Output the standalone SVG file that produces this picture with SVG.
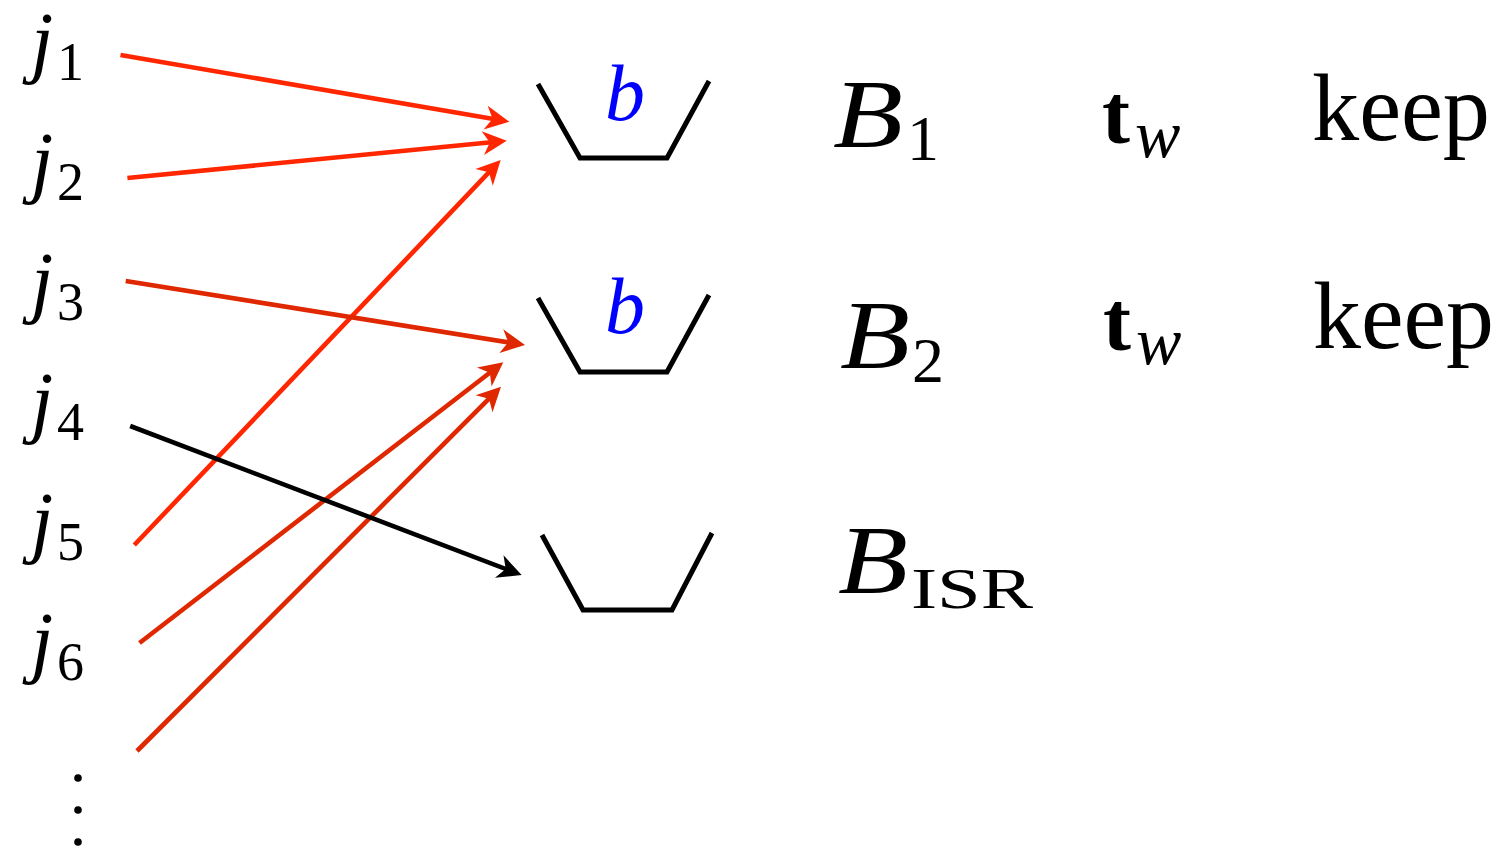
<svg xmlns="http://www.w3.org/2000/svg" width="1504" height="848" viewBox="0 0 1504 848">
<style>
text{font-family:'Liberation Serif',serif;fill:#000}
.i{font-style:italic}
.jm{font-size:80px}
.js{font-size:54px}
.bm{font-size:97px}
.bs{font-size:64px}
.bl{font-size:80px;fill:#0000ff;font-style:italic}
.kp{font-size:95px}
.bucket{fill:none;stroke:#000;stroke-width:5;stroke-linejoin:miter}
.a1{fill:none;stroke:#ff2600;stroke-width:4.6}
.a2{fill:none;stroke:#e02800;stroke-width:4.6}
.a3{fill:none;stroke:#000;stroke-width:4.6}
</style>
<defs>
<marker id="m1" markerUnits="userSpaceOnUse" refX="0" refY="0" markerWidth="30" markerHeight="30" orient="auto" overflow="visible"><path d="M13,0 L-11,-12 L-4,0 L-11,12 Z" fill="#ff2600"/></marker>
<marker id="m2" markerUnits="userSpaceOnUse" refX="0" refY="0" markerWidth="30" markerHeight="30" orient="auto" overflow="visible"><path d="M13,0 L-11,-12 L-4,0 L-11,12 Z" fill="#e02800"/></marker>
<marker id="m3" markerUnits="userSpaceOnUse" refX="0" refY="0" markerWidth="30" markerHeight="30" orient="auto" overflow="visible"><path d="M13,0 L-11,-12 L-4,0 L-11,12 Z" fill="#000"/></marker>
</defs>
<rect width="1504" height="848" fill="#fff"/>

<g id="j1"><text class="i jm" x="31" y="68">j</text><text class="js" x="57" y="80">1</text></g>
<g id="j2"><text class="i jm" x="31" y="188">j</text><text class="js" x="57" y="200">2</text></g>
<g id="j3"><text class="i jm" x="31" y="308">j</text><text class="js" x="57" y="320">3</text></g>
<g id="j4"><text class="i jm" x="31" y="428">j</text><text class="js" x="57" y="440">4</text></g>
<g id="j5"><text class="i jm" x="31" y="548">j</text><text class="js" x="57" y="560">5</text></g>
<g id="j6"><text class="i jm" x="31" y="668">j</text><text class="js" x="57" y="680">6</text></g>
<g id="vdots" fill="#000"><circle cx="78" cy="778" r="3.8"/><circle cx="78" cy="810" r="3.8"/><circle cx="78" cy="842" r="3.8"/></g>

<g id="bucket1"><path class="bucket" d="M538,84 L580,158 L667,158 L709,81"/><text class="bl" x="625" y="120" text-anchor="middle">b</text></g>
<g id="bucket2"><path class="bucket" d="M538,298 L580,372 L667,372 L709,295"/><text class="bl" x="625" y="333" text-anchor="middle">b</text></g>
<g id="bucket3"><path class="bucket" d="M542,535 L583,610 L672,610 L712,533"/></g>

<g id="B1"><text class="i bm" x="833" y="147" textLength="70" lengthAdjust="spacingAndGlyphs">B</text><text class="bs" x="907" y="160">1</text></g>
<g id="B2"><text class="i bm" x="840" y="368" textLength="70" lengthAdjust="spacingAndGlyphs">B</text><text class="bs" x="912" y="382">2</text></g>
<g id="BISR"><text class="i bm" x="838" y="593" textLength="70" lengthAdjust="spacingAndGlyphs">B</text><text style="font-size:58px" x="911" y="608" textLength="122" lengthAdjust="spacingAndGlyphs">ISR</text></g>

<g id="tw1"><text style="font-size:84px;font-weight:bold" x="1102" y="143">t</text><text class="i" style="font-size:68px" x="1135" y="157">w</text></g>
<g id="tw2"><text style="font-size:84px;font-weight:bold" x="1103" y="350">t</text><text class="i" style="font-size:68px" x="1136" y="364">w</text></g>
<g id="keep1"><text class="kp" x="1312" y="140" textLength="178" lengthAdjust="spacingAndGlyphs">keep</text></g>
<g id="keep2"><text class="kp" x="1313" y="348" textLength="181" lengthAdjust="spacingAndGlyphs">keep</text></g>

<g id="connectors">
<line class="a1" x1="120.5" y1="55" x2="496.5" y2="119.5" marker-end="url(#m1)"/>
<line class="a1" x1="127.4" y1="178" x2="493.8" y2="142.0" marker-end="url(#m1)"/>
<line class="a1" x1="134.3" y1="545" x2="491.7" y2="169.4" marker-end="url(#m1)"/>
<line class="a2" x1="125.7" y1="281" x2="512.2" y2="342.9" marker-end="url(#m2)"/>
<line class="a2" x1="139.5" y1="643" x2="493.0" y2="370.2" marker-end="url(#m2)"/>
<line class="a2" x1="137" y1="751" x2="491.8" y2="395.9" marker-end="url(#m2)"/>
<line class="a3" x1="130.2" y1="426" x2="509.5" y2="570.4" marker-end="url(#m3)"/>
</g>
</svg>
